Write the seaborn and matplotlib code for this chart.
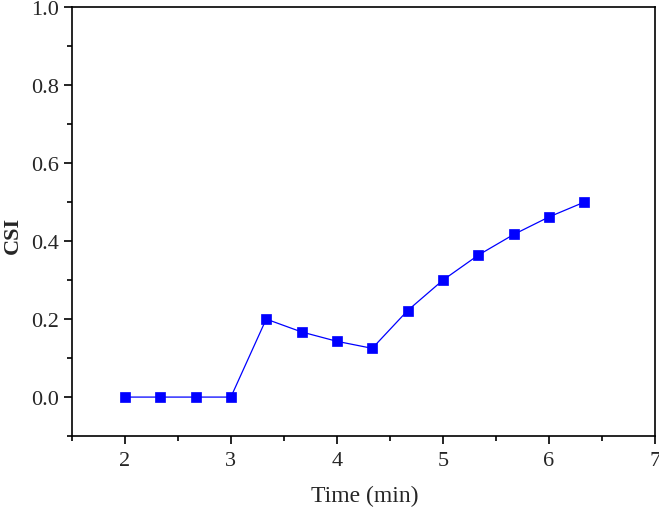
import numpy as np
import pandas as pd
import matplotlib
matplotlib.use('Agg')
import matplotlib.pyplot as plt
import seaborn as sns
from matplotlib.ticker import MultipleLocator

# data
time_min = [2.0, 2.333, 2.667, 3.0, 3.333, 3.667, 4.0, 4.333, 4.667, 5.0, 5.333, 5.667, 6.0, 6.333]
csi = [0.0, 0.0, 0.0, 0.0, 0.2, 0.167, 0.143, 0.125, 0.222, 0.3, 0.364, 0.417, 0.462, 0.5]

df = pd.DataFrame({'time': time_min, 'csi': csi})

sns.set_style('ticks')
plt.rcParams['font.family'] = ['Liberation Serif', 'DejaVu Serif']

fig = plt.figure(figsize=(6.59, 5.10), dpi=100)
ax = fig.add_axes([0.109, 0.143, 0.885, 0.841])

sns.lineplot(data=df, x='time', y='csi', ax=ax, color='#0000FF', linewidth=0.9,
             marker='s', markersize=7, markeredgecolor='#0000FF', markeredgewidth=0.5)

ax.set_xlim(1.5, 7)
ax.set_ylim(-0.1, 1.0)
ax.set_xticks([2, 3, 4, 5, 6, 7])
ax.set_yticks([0.0, 0.2, 0.4, 0.6, 0.8, 1.0])
ax.xaxis.set_minor_locator(MultipleLocator(0.5))
ax.yaxis.set_minor_locator(MultipleLocator(0.1))

ax.tick_params(which='major', direction='out', length=6, width=1.2, labelsize=16, color='black')
ax.tick_params(axis='x', which='major', pad=5)
ax.tick_params(which='minor', direction='out', length=3.5, width=1.2, color='black')
for s in ax.spines.values():
    s.set_linewidth(1.2)
    s.set_color('black')

ax.set_xlabel('Time (min)', fontsize=17)
ax.set_ylabel('CSI', fontsize=16, fontweight='bold')
ax.xaxis.set_label_coords(0.502, -0.113)
ax.yaxis.set_label_coords(-0.084, 0.47)

fig.savefig('out.png', dpi=100)
